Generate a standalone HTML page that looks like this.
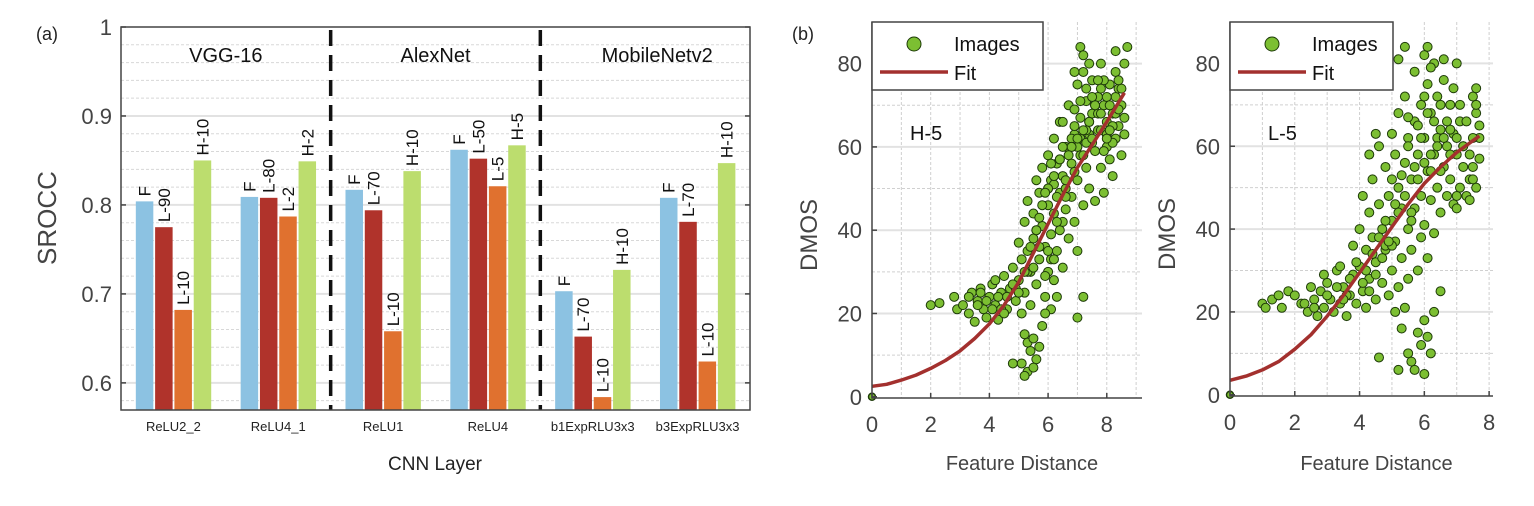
<!DOCTYPE html>
<html><head><meta charset="utf-8">
<style>
body{margin:0;background:#fff;}
svg{display:block;font-family:"Liberation Sans",sans-serif;}
</style></head>
<body>
<svg id="fig" width="1534" height="506" viewBox="0 0 1534 506">
<text x="36" y="40" font-size="18" fill="#222">(a)</text>
<text x="792" y="40" font-size="18" fill="#222">(b)</text>
<g id="bar"></g>
<g id="sc1"></g>
<g id="sc2"></g>
</svg>
<script>
// ---- bar chart data ----
const layers = ["ReLU2_2","ReLU4_1","ReLU1","ReLU4","b1ExpRLU3x3","b3ExpRLU3x3"];
const seriesF = [0.804,0.809,0.817,0.862,0.703,0.808];
const seriesA = [0.775,0.808,0.794,0.852,0.652,0.781];
const seriesB = [0.682,0.787,0.658,0.821,0.584,0.624];
const seriesH = [0.850,0.849,0.838,0.867,0.727,0.847];
const labelsA = ["L-90","L-80","L-70","L-50","L-70","L-70"];
const labelsB = ["L-10","L-2","L-10","L-5","L-10","L-10"];
const labelsH = ["H-10","H-2","H-10","H-5","H-10","H-10"];
const networks = ["VGG-16","AlexNet","MobileNetv2"];
const yTicks = [0.6,0.7,0.8,0.9,1];
const yTickLabels = ["0.6","0.7","0.8","0.9","1"];

// ---- scatter data ----
const h5x=[2.0,2.3,2.8,2.9,3.1,3.3,3.4,3.5,3.6,3.7,3.8,3.9,4.0,4.1,4.2,4.3,4.4,4.5,4.6,4.7,4.8,4.9,5.0,5.0,5.1,5.1,5.2,5.2,5.3,5.3,5.4,5.4,5.5,5.5,5.6,5.6,5.7,5.7,5.8,5.8,5.9,5.9,6.0,6.0,6.0,6.1,6.1,6.2,6.2,6.2,6.3,6.3,6.4,6.4,6.4,6.5,6.5,6.6,6.6,6.7,6.7,6.8,6.8,6.9,6.9,7.0,7.0,7.0,7.1,7.1,7.2,7.2,7.2,7.3,7.3,7.4,7.4,7.5,7.5,7.6,7.6,7.7,7.7,7.8,7.8,7.9,7.9,8.0,8.0,8.1,8.1,8.2,8.2,8.3,8.3,8.4,8.5,8.5,8.6,8.6,8.7,8.3,7.1,7.2,7.4,6.9,5.2,5.3,5.4,5.5,5.6,5.1,5.3,5.5,5.7,5.2,4.8,7.0,6.1,6.3,5.8,5.9,4.6,4.2,3.6,3.3,6.5,6.8,7.3,7.6,8.0,8.4,7.8,6.9,7.5,8.2,5.6,6.0,6.4,6.8,7.1,7.4,7.7,8.0,8.3,6.2,6.6,7.0,7.3,7.9,4.4,4.9,5.3,5.7,6.1,6.5,
5.4,5.6,5.8,6.0,6.2,6.4,6.6,6.8,7.0,7.2,7.4,7.6,7.8,8.0,8.2,8.4,8.6,5.5,5.7,5.9,6.1,6.3,6.5,6.7,6.9,7.1,7.3,7.5,7.7,7.9,8.1,8.3,8.5,6.0,6.3,6.6,6.9,7.2,7.5,7.8,8.1,8.4,4.5,4.8,5.0,5.2,3.9,4.1,4.3,3.7,5.9,6.2];
const h5y=[22,22.5,24,21,22,20,25,18,23,26,21,19,24,27,22,18.5,25,29,21,26,31,23,37,28,33,20,42,25,47,35,30,22,44,38,52,27,49,33,55,41,36,24,58,46,30,52,39,62,44,28,56,35,66,49,40,53,31,60,45,70,38,56,48,63,42,75,52,35,67,58,78,46,24,71,55,63,50,76,68,59,47,72,64,55,80,70,49,66,60,75,57,68,53,72,62,65,70,58,67,80,84,83,84,82,80,78,15,13,11,14,9,8,6,7,12,5,8,19,21,24,17,20,24,28,22,24,66,62,74,70,72,74,64,69,61,61,40,50,57,60,62,66,68,63,68,51,50,60,64,76,21,26,30,36,33,42,
36,40,46,50,53,57,52,60,62,64,66,70,68,62,65,69,63,31,43,49,56,48,60,58,65,71,61,72,76,59,70,78,74,35,42,48,54,58,62,74,64,76,20,27,25,30,23,21,24,25,29,33];
const l5x=[1.0,1.1,1.3,1.5,1.6,1.8,2.2,2.4,2.5,2.6,2.7,2.8,2.9,3.0,3.1,3.2,3.3,3.4,3.5,3.6,3.7,3.8,3.8,3.9,4.0,4.0,4.1,4.1,4.2,4.2,4.3,4.3,4.4,4.4,4.5,4.5,4.6,4.6,4.7,4.7,4.8,4.8,4.9,4.9,5.0,5.0,5.0,5.1,5.1,5.2,5.2,5.2,5.3,5.3,5.4,5.4,5.4,5.5,5.5,5.5,5.6,5.6,5.7,5.7,5.7,5.8,5.8,5.9,5.9,5.9,6.0,6.0,6.0,6.1,6.1,6.1,6.2,6.2,6.3,6.3,6.3,6.4,6.4,6.5,6.5,6.6,6.6,6.7,6.7,6.8,6.8,6.9,6.9,7.0,7.0,7.1,7.1,7.2,7.3,7.4,7.5,7.5,7.6,7.6,7.7,7.6,7.4,7.7,5.3,5.5,5.6,5.7,5.8,5.9,6.0,6.1,6.2,6.0,5.2,4.6,6.3,6.5,5.1,5.4,5.2,6.1,6.2,6.6,4.3,4.5,3.4,2.9,5.8,6.4,6.8,7.2,7.0,6.2,5.6,4.8,4.2,3.6,7.6,7.7,7.5,
4.2,4.4,4.6,4.8,5.0,5.2,5.4,5.6,5.8,6.0,6.2,6.4,6.6,6.8,7.0,7.2,7.4,4.3,4.5,4.7,4.9,5.1,5.3,5.5,5.7,5.9,6.1,6.3,6.5,6.7,6.9,7.1,7.3,7.5,3.5,3.7,3.9,4.1,2.0,2.3,2.6,3.0,3.3,5.0,5.5,6.0,6.5,7.0];
const l5y=[22,21,23,24,21,25,22,20,26,23,19,25,21,27,23,20,30,22,26,19,24,36,29,22,40,31,25,48,35,21,44,28,52,38,32,23,60,46,40,27,55,35,48,24,63,42,30,58,37,68,50,26,45,33,72,56,21,62,40,28,52,35,78,66,45,58,30,70,48,38,82,62,41,75,54,33,68,47,80,58,39,72,50,64,44,76,55,60,48,70,52,63,46,80,58,66,50,55,48,52,72,55,68,50,65,74,47,57,16,10,8,6,15,12,18,14,10,5,6,9,20,25,20,84,81,84,79,81,58,63,31,29,65,62,58,60,45,54,44,36,30,24,70,62,52,
30,34,38,42,36,44,48,42,52,56,58,60,62,64,62,60,58,25,29,33,37,46,53,60,55,62,68,66,70,66,74,70,66,62,23,28,32,27,24,22,21,24,26,52,67,72,54,48];
const h5FitX=[0,0.5,1,1.5,2,2.5,3,3.5,4,4.5,5,5.5,6,6.5,7,7.5,8,8.6];
const h5FitY=[2.5,3,4,5.2,6.8,8.7,11,14,17.5,22,27.5,34.5,41.5,48.5,55,60.5,66,73];
const l5FitX=[0,0.5,1,1.5,2,2.5,3,3.5,4,4.5,5,5.5,6,6.5,7,7.7];
const l5FitY=[3.5,4.5,6,8,11,14.5,19,24,29.5,35,40.5,46,51,55,58.5,62.5];
const sxTicks=[0,2,4,6,8];
const syTicks=[0,20,40,60,80];

const NS="http://www.w3.org/2000/svg";
function mk(parent,tag,attrs,txt){const e=document.createElementNS(NS,tag);for(const k in attrs)e.setAttribute(k,attrs[k]);if(txt!==undefined)e.textContent=txt;parent.appendChild(e);return e;}

// ================= BAR CHART =================
(function(){
const g=document.getElementById('bar');
const L=121,R=750,T=27,B=410;
const yMin=0.5695,yMax=1.0;
const y=v=>B-(v-yMin)/(yMax-yMin)*(B-T);
const gw=(R-L)/layers.length;
const cx=i=>L+gw*(i+0.5);
for(let v=0.58;v<1.0;v+=0.02){
  const vv=Math.round(v*100)/100;
  const major=Math.abs(vv*10-Math.round(vv*10))<1e-6;
  const ln=mk(g,'line',{x1:L,x2:R,y1:y(vv),y2:y(vv),stroke:major?'#e2e2e2':'#d8d8d8','stroke-width':major?2:1,'stroke-dasharray':major?'':'3,2'});
  
  
}
const cols=['#8cc2e2','#b0332b','#e0712f','#bcdd6e'];
const ser=[seriesF,seriesA,seriesB,seriesH];
const labs=[layers.map(()=>"F"),labelsA,labelsB,labelsH];
const bw=17.5,step=19.3;
layers.forEach((name,i)=>{
  for(let s=0;s<4;s++){
    const x0=cx(i)-2*step+s*step+1;
    const r=mk(g,'rect',{x:x0,y:y(ser[s][i]),width:bw,height:B-y(ser[s][i]),fill:cols[s]});
    
    
    const tx=x0+bw/2+6, ty=y(ser[s][i])-5;
    const t=mk(g,'text',{x:tx,y:ty,'font-size':17,fill:'#111',transform:`rotate(-90 ${tx} ${ty})`},labs[s][i]);
    
    
  }
  const xl=mk(g,'text',{x:cx(i),y:431,'font-size':13,'text-anchor':'middle',fill:'#222','font-family':'"Liberation Sans Narrow","Liberation Sans",sans-serif'},name);
  
  
});
[2,4].forEach(k=>{
  const ln=mk(g,'line',{x1:L+gw*k,x2:L+gw*k,y1:T+3,y2:B,stroke:'#111','stroke-width':3.5,'stroke-dasharray':'16,9'});
  
  
});
networks.forEach((n,k)=>{
  const t=mk(g,'text',{x:L+gw*(2*k+1)+ (k===2?12:0),y:62,'font-size':20,'text-anchor':'middle',fill:'#111'},n);
  
  
});
const fr=mk(g,'rect',{x:L,y:T,width:R-L,height:B-T,fill:'none',stroke:'#444','stroke-width':1.5});


yTicks.forEach((v,k)=>{
  mk(g,'line',{x1:L,x2:L+5,y1:y(v),y2:y(v),stroke:'#444','stroke-width':1.5});
  mk(g,'line',{x1:R-5,x2:R,y1:y(v),y2:y(v),stroke:'#444','stroke-width':1.5});
  const t=mk(g,'text',{x:L-9,y:y(v)+8,'font-size':22,'text-anchor':'end',fill:'#444'},yTickLabels[k]);
  
  
});
const yt=mk(g,'text',{x:56,y:218,'font-size':26,'text-anchor':'middle',fill:'#444',transform:'rotate(-90 56 218)'},'SROCC');


const xt=mk(g,'text',{x:435,y:470,'font-size':19,'text-anchor':'middle',fill:'#222'},'CNN Layer');


})();

// ================= SCATTER =================
function scatter(id,L,R,T,B,xMax,yMin,yMax,xs,ys,fx,fy,tag,lw){
const g=document.getElementById(id);
const X=v=>L+v/xMax*(R-L);
const Y=v=>B-(v-yMin)/(yMax-yMin)*(B-T);
for(let v=1;v<xMax;v++){
  const ln=mk(g,'line',{x1:X(v),x2:X(v),y1:T,y2:B,stroke:'#cfcfcf','stroke-width':1,'stroke-dasharray':'3,2'});
  
  
}
for(let v=10;v<yMax;v+=10){
  const major=v%20===0;
  const ln=mk(g,'line',{x1:L,x2:R,y1:Y(v),y2:Y(v),stroke:major?'#e2e2e2':'#d0d0d0','stroke-width':major?2:1,'stroke-dasharray':major?'':'3,2'});
  
  
}
xs.forEach((v,i)=>{
  const c=mk(g,'circle',{cx:X(v),cy:Y(ys[i]),r:4.5,fill:'#7cbf32',stroke:'#1d3a08','stroke-width':1});
  
  
});
const c0=mk(g,'circle',{cx:X(0),cy:Y(0),r:3.5,fill:'#7cbf32',stroke:'#1d3a08','stroke-width':1.5});


let d='';
for(let i=0;i<fx.length;i++){d+=(i?'L':'M')+X(fx[i]).toFixed(1)+','+Y(fy[i]).toFixed(1);}
const p=mk(g,'path',{d:d,fill:'none',stroke:'#a3302e','stroke-width':3.5,'stroke-linejoin':'round'});


const ax=mk(g,'path',{d:`M${L},${T}V${B}H${R}`,fill:'none',stroke:'#444','stroke-width':1.5});


sxTicks.forEach(v=>{
  mk(g,'line',{x1:X(v),x2:X(v),y1:B,y2:B-5,stroke:'#444','stroke-width':1.5});
  const t=mk(g,'text',{x:X(v),y:B+34,'font-size':22,'text-anchor':'middle',fill:'#444'},String(v));
  
  
});
syTicks.forEach(v=>{
  mk(g,'line',{x1:L,x2:L+5,y1:Y(v),y2:Y(v),stroke:'#444','stroke-width':1.5});
  const t=mk(g,'text',{x:L-10,y:Y(v)+8,'font-size':22,'text-anchor':'end',fill:'#444'},String(v));
  
  
});
const yt=mk(g,'text',{x:L-55,y:(T+B)/2+25,'font-size':24,'text-anchor':'middle',fill:'#444',transform:`rotate(-90 ${L-55} ${(T+B)/2+25})`},'DMOS');


const xt=mk(g,'text',{x:(L+R)/2+15,y:470,'font-size':20,'text-anchor':'middle',fill:'#444'},'Feature Distance');


const tg=mk(g,'text',{x:L+38,y:140,'font-size':20,fill:'#111'},tag);


const lg=mk(g,'g',{});


mk(lg,'rect',{x:L,y:T,width:lw,height:68,fill:'#fff',stroke:'#444','stroke-width':1.5});
mk(lg,'circle',{cx:L+42,cy:T+22,r:7,fill:'#7cbf32',stroke:'#1d3a08','stroke-width':1});
mk(lg,'text',{x:L+82,y:T+29,'font-size':20,fill:'#111'},'Images');
mk(lg,'line',{x1:L+8,x2:L+76,y1:T+50,y2:T+50,stroke:'#a3302e','stroke-width':3.5});
mk(lg,'text',{x:L+82,y:T+58,'font-size':20,fill:'#111'},'Fit');
}
scatter('sc1',872,1142,22,398,9.2,-0.3,90,h5x,h5y,h5FitX,h5FitY,'H-5',171);
scatter('sc2',1230,1493,22,396,8.12,-0.3,90,l5x,l5y,l5FitX,l5FitY,'L-5',163);
</script>
</body></html>
